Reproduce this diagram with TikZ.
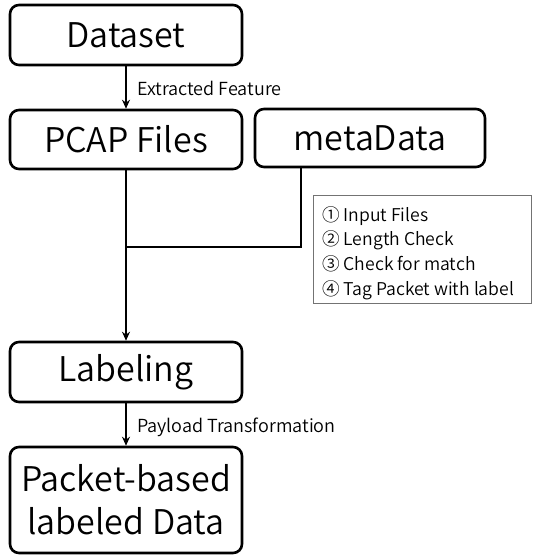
\documentclass[tikz,border=0pt]{standalone}
\usepackage{fontspec}
\IfFontExistsTF{Noto Sans CJK KR DemiLight}{\setmainfont{Noto Sans CJK KR DemiLight}}{\IfFontExistsTF{Noto Sans CJK KR Light}{\setmainfont{Noto Sans CJK KR Light}}{\setmainfont{Noto Sans CJK KR}}}
\usetikzlibrary{arrows.meta}
\tikzset{
  box/.style={draw=black, line width=2.6pt, rounded corners=9pt, minimum width=232pt, inner sep=0pt, font=\fontsize{34}{40}\selectfont, align=center},
  conn/.style={line width=2.2pt, draw=black},
  arr/.style={conn, -{Stealth[length=9pt,width=8pt]}},
  lbl/.style={anchor=west, inner sep=0pt, font=\fontsize{18}{20}\selectfont},
  legend/.style={draw=black!55, line width=0.8pt, minimum width=218pt, minimum height=108pt, inner sep=0pt}
}
\begin{document}
\begin{tikzpicture}[x=1pt,y=-1pt]
\useasboundingbox (0,0) rectangle (533,555);
\node[box, minimum height=60pt] (dataset) at (126,35) {Dataset};
\node[box, minimum height=59pt] (pcap) at (126,139.5) {PCAP Files};
\node[box, minimum height=58pt, minimum width=230pt] (meta) at (370,138) {metaData};
\node[box, minimum height=60pt] (labeling) at (126,372) {Labeling};
\node[box, minimum height=106pt, font=\fontsize{34}{43}\selectfont] (packet) at (126,500) {\raisebox{-3pt}{Packet-based}\\\raisebox{-3pt}{labeled Data}};
\node[legend] (legend) at (422,249) {};
\node[anchor=west, inner sep=0pt, align=left, font=\fontsize{17.6}{24.8}\selectfont] (legtext) at (322,253) {① Input Files\\② Length Check\\③ Check for match\\④ Tag Packet with label};
\coordinate (join) at (126,247);
\coordinate (mdrop) at (301,168);
\draw[arr] (dataset) -- (pcap);
\draw[arr] (pcap) -- (labeling);
\draw[arr] (labeling) -- (packet);
\draw[conn] (meta.south -| mdrop) |- (join);
\node[lbl] (ef) at (137,88) {Extracted Feature};
\node[lbl] (pt) at (137,427) {Payload Transformation};
\end{tikzpicture}
\end{document}
